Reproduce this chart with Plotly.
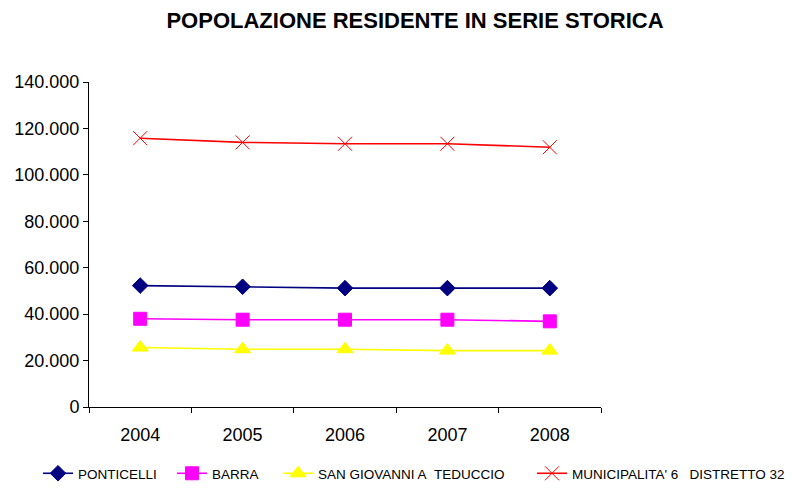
import plotly.graph_objects as go

years = ["2004", "2005", "2006", "2007", "2008"]
ponticelli = [52300, 51800, 51200, 51200, 51200]
barra = [38000, 37600, 37600, 37600, 36900]
san_giovanni = [25600, 24900, 24900, 24300, 24300]
municipalita = [115800, 114000, 113400, 113400, 111900]

names = ["PONTICELLI", "BARRA", "SAN GIOVANNI A\u00a0\u00a0TEDUCCIO",
         "MUNICIPALITA' 6\u00a0\u00a0\u00a0DISTRETTO 32"]
values = [ponticelli, barra, san_giovanni, municipalita]
colors = ["#000080", "#FF00FF", "#FFFF00", "#FF0000"]
symbols = ["diamond", "square", "triangle-up", "x-thin"]
sizes = [12, 13, 14, 14]
legend_ids = ["legend", "legend2", "legend3", "legend4"]
legend_text_x = [78, 212, 318, 572]

fig = go.Figure()
for name, vals, color, sym, size, lid in zip(names, values, colors, symbols, sizes, legend_ids):
    fig.add_trace(go.Scatter(
        x=years, y=vals, name=name, mode="lines+markers", legend=lid,
        line=dict(color=color, width=1.6),
        marker=dict(symbol=sym, size=size, color=color,
                    line=dict(color=color, width=1)),
    ))

W, H = 802, 489
legend_common = dict(orientation="h", xref="container", yref="container",
                     y=-7 / H, xanchor="left", yanchor="bottom",
                     font=dict(size=13.5), bgcolor="rgba(0,0,0,0)")
layout_legends = {}
for lid, tx in zip(legend_ids, legend_text_x):
    layout_legends[lid] = dict(legend_common, x=(tx - 40) / W)

fig.update_layout(
    width=W, height=H,
    paper_bgcolor="white", plot_bgcolor="white",
    font=dict(family="Liberation Sans, Arial, sans-serif", color="black", size=18),
    separators=",.",
    title=dict(text="<b>POPOLAZIONE RESIDENTE IN SERIE STORICA</b>",
               x=415 / W, xanchor="center", y=1 - 20 / H, yanchor="middle",
               font=dict(size=22)),
    margin=dict(l=89, r=201, t=82, b=82, autoexpand=False),
    showlegend=True,
    **layout_legends,
)
fig.update_xaxes(type="category", range=[-0.5, 4.5], showline=True,
                 linecolor="black", linewidth=1,
                 ticks="outside", ticklen=5, tickcolor="black", tickson="boundaries",
                 showgrid=False, zeroline=False, tickfont=dict(size=18),
                 ticklabelstandoff=11)
fig.update_yaxes(range=[0, 140000], dtick=20000, tickformat=",d", showline=True,
                 linecolor="black", linewidth=1, ticks="outside", ticklen=5,
                 tickcolor="black", showgrid=False, zeroline=False,
                 tickfont=dict(size=18))

fig.write_html("out.html", config={"displayModeBar": False},
               post_script="document.body.style.margin='0';document.body.style.padding='0';document.body.style.overflow='hidden';")
